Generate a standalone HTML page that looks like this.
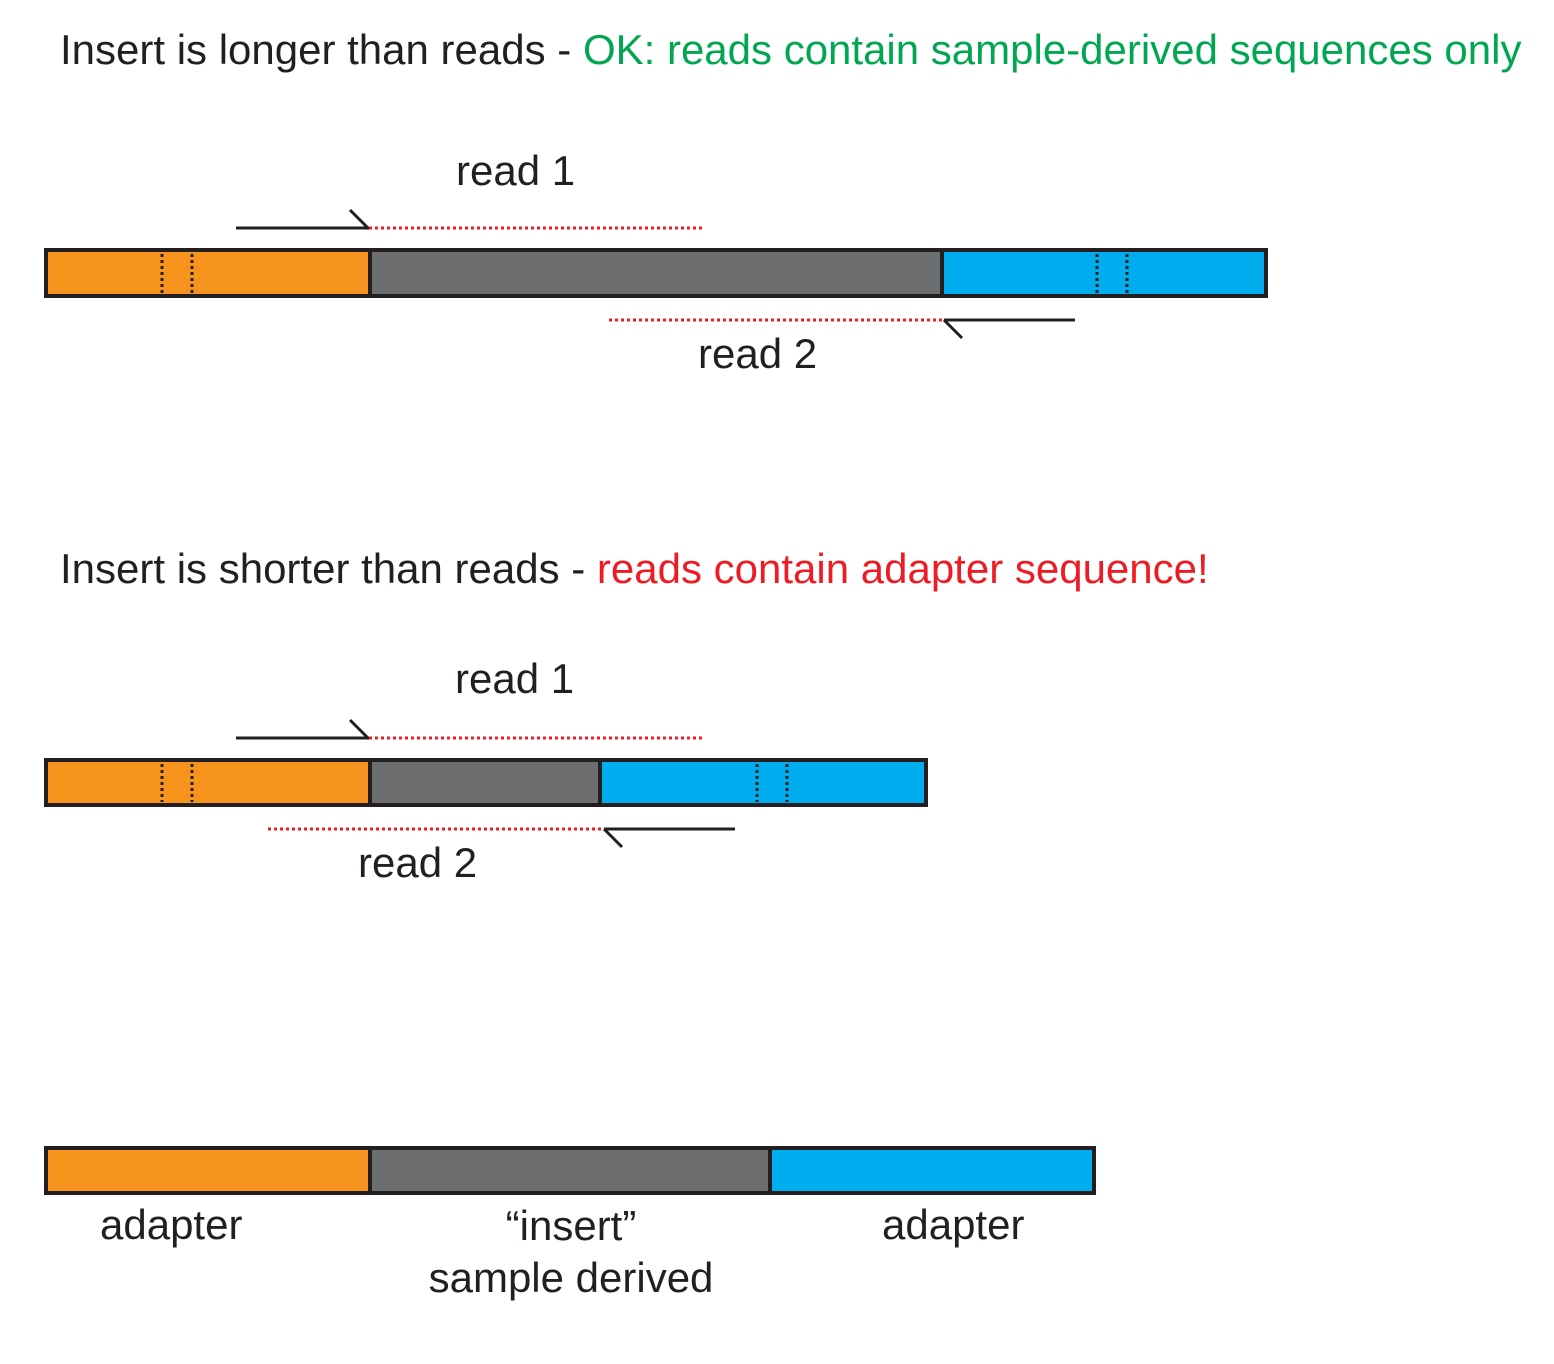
<!DOCTYPE html>
<html><head><meta charset="utf-8"><style>
html,body{margin:0;padding:0;background:#fff;}
svg{display:block;}
text{font-family:"Liberation Sans",Arial,sans-serif;font-size:42px;fill:#231f20;}
</style></head><body>
<svg width="1554" height="1364" viewBox="0 0 1554 1364">
<text x="60" y="64">Insert is longer than reads - <tspan style="fill:#00a650">OK: reads contain sample-derived sequences only</tspan></text>
<text x="456" y="185">read 1</text>
<g>
<line x1="236" y1="228" x2="368" y2="228" stroke="#231f20" stroke-width="3"/>
<line x1="350" y1="210" x2="369" y2="229" stroke="#231f20" stroke-width="3"/>
<line x1="369" y1="228" x2="704" y2="228" stroke="#ed1c24" stroke-width="3" stroke-dasharray="3,3"/>
</g>
<g>
<rect x="46" y="250" width="324" height="46" fill="#f7941e"/>
<rect x="370" y="250" width="572" height="46" fill="#6d6e70"/>
<rect x="942" y="250" width="324" height="46" fill="#00aeef"/>
<rect x="46" y="250" width="1220" height="46" fill="none" stroke="#231f20" stroke-width="4"/>
<line x1="370" y1="250" x2="370" y2="296" stroke="#231f20" stroke-width="4"/>
<line x1="942" y1="250" x2="942" y2="296" stroke="#231f20" stroke-width="4"/>
<g stroke="#231f20" stroke-width="3" stroke-dasharray="3,3">
<line x1="162" y1="254" x2="162" y2="293"/><line x1="192" y1="254" x2="192" y2="293"/>
<line x1="1097" y1="254" x2="1097" y2="293"/><line x1="1127" y1="254" x2="1127" y2="293"/>
</g></g>
<g>
<line x1="609" y1="320" x2="944" y2="320" stroke="#ed1c24" stroke-width="3" stroke-dasharray="3,3"/>
<line x1="944" y1="320" x2="1075" y2="320" stroke="#231f20" stroke-width="3"/>
<line x1="944" y1="320" x2="962" y2="338" stroke="#231f20" stroke-width="3"/>
</g>
<text x="698" y="368">read 2</text>

<text x="60" y="583">Insert is shorter than reads - <tspan style="fill:#ed1c24">reads contain adapter sequence!</tspan></text>
<text x="455" y="693">read 1</text>
<g>
<line x1="236" y1="738" x2="368" y2="738" stroke="#231f20" stroke-width="3"/>
<line x1="350" y1="720" x2="369" y2="739" stroke="#231f20" stroke-width="3"/>
<line x1="369" y1="738" x2="704" y2="738" stroke="#ed1c24" stroke-width="3" stroke-dasharray="3,3"/>
</g>
<g>
<rect x="46" y="760" width="324" height="45" fill="#f7941e"/>
<rect x="370" y="760" width="230" height="45" fill="#6d6e70"/>
<rect x="600" y="760" width="326" height="45" fill="#00aeef"/>
<rect x="46" y="760" width="880" height="45" fill="none" stroke="#231f20" stroke-width="4"/>
<line x1="370" y1="760" x2="370" y2="805" stroke="#231f20" stroke-width="4"/>
<line x1="600" y1="760" x2="600" y2="805" stroke="#231f20" stroke-width="4"/>
<g stroke="#231f20" stroke-width="3" stroke-dasharray="3,3">
<line x1="162" y1="764" x2="162" y2="802"/><line x1="192" y1="764" x2="192" y2="802"/>
<line x1="757" y1="764" x2="757" y2="802"/><line x1="787" y1="764" x2="787" y2="802"/>
</g></g>
<g>
<line x1="268" y1="829" x2="604" y2="829" stroke="#ed1c24" stroke-width="3" stroke-dasharray="3,3"/>
<line x1="604" y1="829" x2="735" y2="829" stroke="#231f20" stroke-width="3"/>
<line x1="604" y1="829" x2="622" y2="847" stroke="#231f20" stroke-width="3"/>
</g>
<text x="358" y="877">read 2</text>

<g>
<rect x="46" y="1148" width="324" height="45" fill="#f7941e"/>
<rect x="370" y="1148" width="400" height="45" fill="#6d6e70"/>
<rect x="770" y="1148" width="324" height="45" fill="#00aeef"/>
<rect x="46" y="1148" width="1048" height="45" fill="none" stroke="#231f20" stroke-width="4"/>
<line x1="370" y1="1148" x2="370" y2="1193" stroke="#231f20" stroke-width="4"/>
<line x1="770" y1="1148" x2="770" y2="1193" stroke="#231f20" stroke-width="4"/>
</g>
<text x="100" y="1239">adapter</text>
<text x="571" y="1240" text-anchor="middle">“insert”</text>
<text x="571" y="1292" text-anchor="middle">sample derived</text>
<text x="882" y="1239">adapter</text>
</svg>
</body></html>
